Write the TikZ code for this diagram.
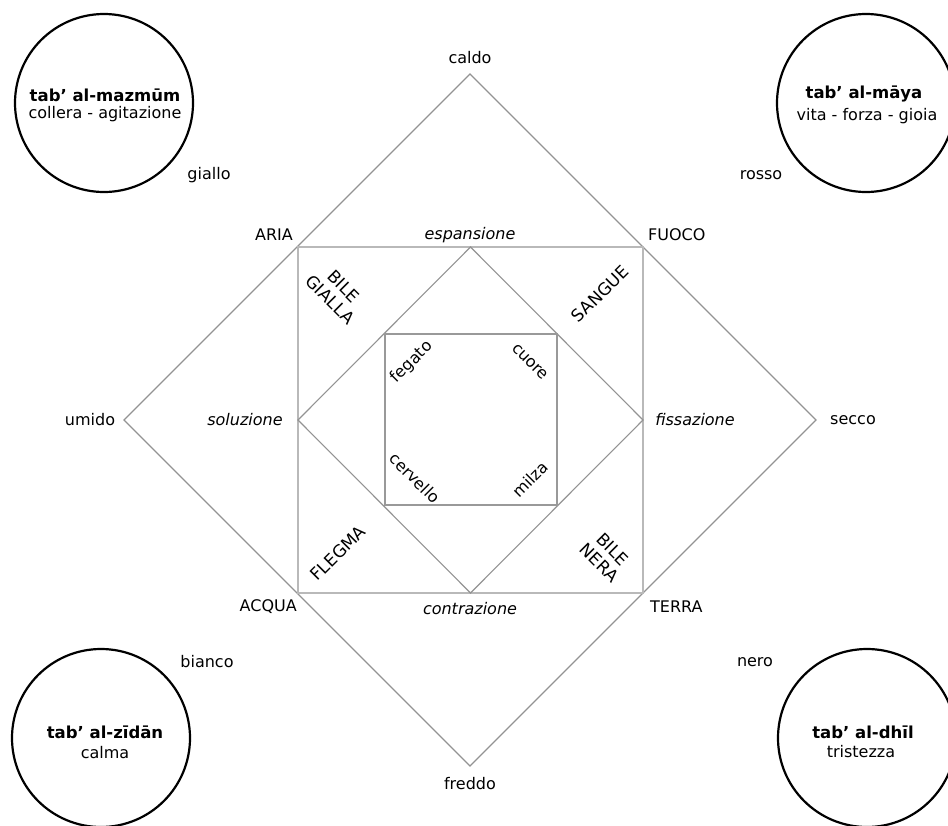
\documentclass[tikz,border=0pt]{standalone}
\usepackage{fontspec}
\setmainfont{DejaVu Sans}
\begin{document}
\begin{tikzpicture}[x=1pt,y=-1pt,
  lbl/.style={font=\fontsize{16}{19}\selectfont, inner sep=0pt},
  itl/.style={font=\fontsize{16}{19}\selectfont\itshape, inner sep=0pt},
  rot/.style={font=\fontsize{17}{19}\selectfont, inner sep=0pt, align=center},
  org/.style={font=\fontsize{16}{18}\selectfont, inner sep=0pt},
  ctitle/.style={font=\fontsize{16.5}{19}\selectfont\bfseries, inner sep=0pt},
  csub/.style={font=\fontsize{16}{18}\selectfont, inner sep=0pt},
  ring/.style={circle, draw=black, line width=2.2pt, minimum size=178pt, inner sep=0pt},
  dline/.style={draw=gray!85, line width=1.1pt},
  sqline/.style={draw=gray!55, line width=2.2pt},
  isqline/.style={draw=gray!80, line width=1.8pt}]
\useasboundingbox (0,0) rectangle (948,825);
% outer diamond
\coordinate (T) at (470,74);
\coordinate (R) at (816,420);
\coordinate (B) at (470,766);
\coordinate (L) at (124,420);
\draw[dline] (T) -- (R) -- (B) -- (L) -- cycle;
% square
\coordinate (SA) at (298,247);
\coordinate (SF) at (643,247);
\coordinate (ST) at (643,593);
\coordinate (SQ) at (298,593);
\draw[sqline] (SA) -- (SF) -- (ST) -- (SQ) -- cycle;
% inner diamond
\coordinate (IT) at (470.5,247);
\coordinate (IR) at (643,420);
\coordinate (IB) at (470.5,593);
\coordinate (IL) at (298,420);
\draw[dline] (IT) -- (IR) -- (IB) -- (IL) -- cycle;
% inner square
\coordinate (Q1) at (385,334);
\coordinate (Q2) at (557,334);
\coordinate (Q3) at (557,505);
\coordinate (Q4) at (385,505);
\draw[isqline] (Q1) -- (Q2) -- (Q3) -- (Q4) -- cycle;
% circles
\node[ring] (cTL) at (104,103) {};
\node[ring] (cTR) at (866,103) {};
\node[ring] (cBL) at (101,738) {};
\node[ring] (cBR) at (867,738) {};
\node[ctitle] (tTL) at (105,95) {tab' al-mazmūm};
\node[csub] (sTL) at (105,114) {collera - agitazione};
\node[ctitle] (tTR) at (864,94) {tab' al-māya};
\node[csub] (sTR) at (867,116) {vita - forza - gioia};
\node[ctitle] (tBL) at (105,732) {tab' al-zīdān};
\node[csub] (sBL) at (105,753) {calma};
\node[ctitle] (tBR) at (863,732) {tab' al-dhīl};
\node[csub] (sBR) at (861,752) {tristezza};
% outer labels
\node[lbl] (caldo) at (470,58) {caldo};
\node[lbl] (freddo) at (470,784) {freddo};
\node[lbl] (umido) at (90,420) {umido};
\node[lbl] (secco) at (853,420) {secco};
\node[lbl] (giallo) at (209,175) {giallo};
\node[lbl] (rosso) at (761,175) {rosso};
\node[lbl] (bianco) at (207,662) {bianco};
\node[lbl] (nero) at (755,662) {nero};
\node[lbl, anchor=east] (aria) at (293,235) {ARIA};
\node[lbl, anchor=west] (fuoco) at (648,235) {FUOCO};
\node[lbl, anchor=east] (acqua) at (297,607) {ACQUA};
\node[lbl, anchor=west] (terra) at (650,607) {TERRA};
\node[itl] (esp) at (470,235) {espansione};
\node[itl] (con) at (470,609) {contrazione};
\node[itl] (sol) at (245,420) {soluzione};
\node[itl] (fis) at (695,420) {fissazione};
% humours
\node[rot, rotate=-45] (bg) at (337,293) {BILE\\GIALLA};
\node[rot, rotate=45] (sa) at (600,294) {SANGUE};
\node[rot, rotate=45] (fl) at (338,553) {FLEGMA};
\node[rot, rotate=-45] (bn) at (606,556) {BILE\\NERA};
% organs
\node[org, rotate=45] (feg) at (412,362) {fegato};
\node[org, rotate=-45] (cuo) at (530,362) {cuore};
\node[org, rotate=-45] (cer) at (415,478) {cervello};
\node[org, rotate=45] (mil) at (530,479) {milza};
\end{tikzpicture}
\end{document}
